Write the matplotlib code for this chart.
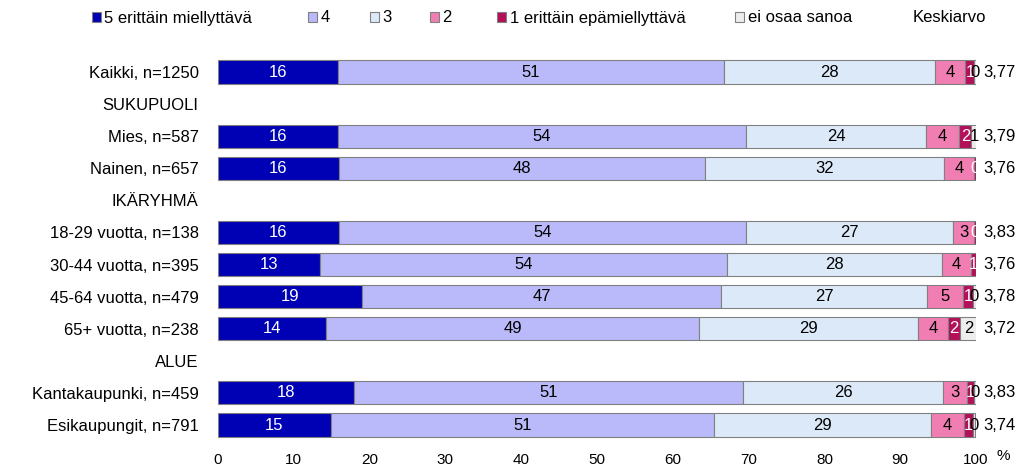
import numpy as np
import matplotlib
matplotlib.use("Agg")
import matplotlib.pyplot as plt
from matplotlib.patches import Patch

plt.rcParams['font.family'] = ['Liberation Sans', 'DejaVu Sans']

nan = np.nan
categories = ["Kaikki, n=1250", "SUKUPUOLI", "Mies, n=587", "Nainen, n=657",
              "IKÄRYHMÄ", "18-29 vuotta, n=138", "30-44 vuotta, n=395",
              "45-64 vuotta, n=479", "65+ vuotta, n=238", "ALUE",
              "Kantakaupunki, n=459", "Esikaupungit, n=791"]
series_names = ["5 erittäin miellyttävä", "4", "3", "2",
                "1 erittäin epämiellyttävä", "ei osaa sanoa"]
v5 = [15.8, nan, 15.8, 15.9, nan, 15.9, 13.4, 19.0, 14.2, nan, 17.9, 14.9]
v4 = [51.0, nan, 53.9, 48.3, nan, 53.8, 53.8, 47.4, 49.3, nan, 51.4, 50.6]
v3 = [27.8, nan, 23.7, 31.6, nan, 27.2, 28.3, 27.1, 28.9, nan, 26.4, 28.6]
v2 = [4.0, nan, 4.4, 4.0, nan, 2.9, 3.8, 4.8, 3.9, nan, 3.1, 4.3]
v1 = [1.2, nan, 1.6, 0.2, nan, 0.2, 0.7, 1.3, 1.6, nan, 0.9, 1.2]
v0 = [0.2, nan, 0.7, 0.0, nan, 0.0, 0.0, 0.4, 2.2, nan, 0.3, 0.3]
keskiarvo = [3.77, nan, 3.79, 3.76, nan, 3.83, 3.76, 3.78, 3.72, nan, 3.83, 3.74]
xticks = [0, 10, 20, 30, 40, 50, 60, 70, 80, 90, 100]

colors = ["#0000B4", "#BABAFA", "#DCE9F8", "#F07EB2", "#B3105A", "#EDEDED"]
text_colors = ["white", "black", "black", "black", "white", "black"]

W, H = 1022, 469
fig = plt.figure(figsize=(W / 100, H / 100), dpi=100)
ax_left, ax_right = 218 / W, 976 / W
ax_top_px, ax_bot_px = 55, 445
ax = fig.add_axes([ax_left, 1 - ax_bot_px / H, ax_right - ax_left, (ax_bot_px - ax_top_px) / H])

n = len(categories)
y = np.arange(n)
row_px = (425 - 72) / (n - 1)
ax.set_ylim(n - 1 + (ax_bot_px - 425) / row_px, -(72 - ax_top_px) / row_px)
ax.set_xlim(0, 100)

data = [v5, v4, v3, v2, v1, v0]
left = np.zeros(n)
handles = []
for vals, col, tc, name in zip(data, colors, text_colors, series_names):
    vals = np.array(vals, dtype=float)
    mask = ~np.isnan(vals)
    ax.barh(y[mask], vals[mask], left=left[mask], height=0.72, color=col,
            edgecolor="#808080", linewidth=0.8)
    for i in np.where(mask)[0]:
        v = vals[i]
        if v > 0:
            ax.text(left[i] + v / 2, y[i], f"{int(round(v))}", ha="center",
                    va="center", color=tc, fontsize=12)
    left[mask] += vals[mask]
    handles.append(Patch(facecolor=col, edgecolor="#808080", linewidth=0.8, label=name))

for i, k in enumerate(keskiarvo):
    if not np.isnan(k):
        ax.text(101.0, y[i], f"{k:.2f}".replace(".", ","), ha="left", va="center",
                fontsize=12)

ax.set_yticks(y)
ax.set_yticklabels(categories, fontsize=12)
ax.set_xticks(xticks)
ax.set_xticklabels([str(t) for t in xticks], fontsize=11)
ax.tick_params(axis="y", length=0, pad=14)
ax.tick_params(axis="x", length=0, pad=6)
for s in ax.spines.values():
    s.set_visible(False)

fig.text(1003 / W, 1 - 456 / H, "%", ha="center", va="center", fontsize=11)
fig.text(949 / W, 1 - 18 / H, "Keskiarvo", ha="center", va="center", fontsize=12)

legend_x_px = [92, 308, 370, 430, 497, 735]
for h, lx in zip(handles, legend_x_px):
    leg = fig.legend(handles=[h], loc="center left", bbox_to_anchor=(lx / W, 1 - 18 / H),
                     frameon=False, fontsize=12, handlelength=0.55, handleheight=0.55,
                     handletextpad=0.2, borderaxespad=0, borderpad=0)

fig.savefig("out.png", dpi=100)
